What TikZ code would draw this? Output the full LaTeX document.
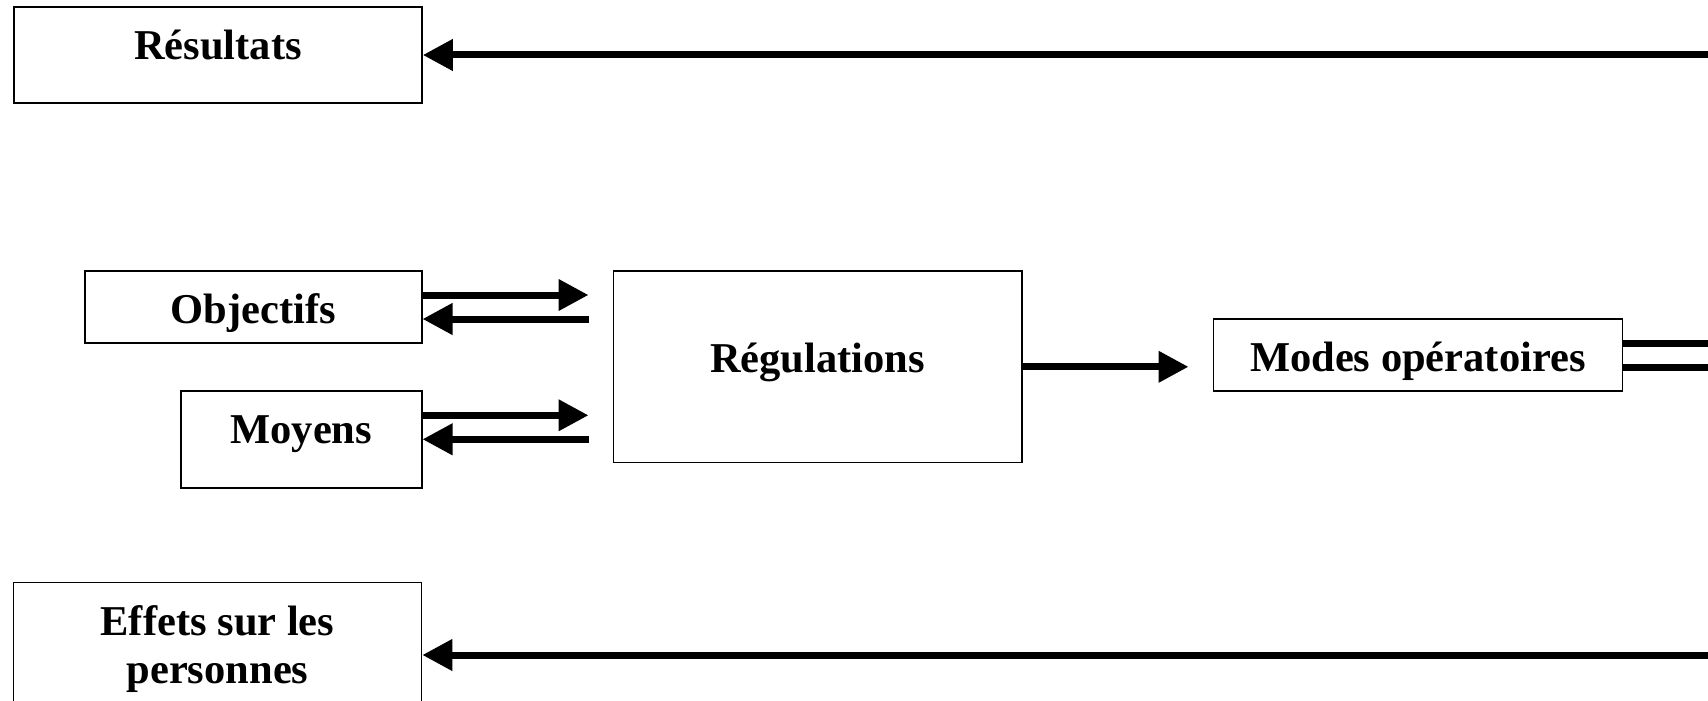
\documentclass[tikz,border=0pt]{standalone}
\usepackage{fontspec}
\setmainfont{Liberation Serif}
\usetikzlibrary{arrows.meta}

\begin{document}
\begin{tikzpicture}[x=0.5pt, y=-0.5pt,
  box/.style={draw, line width=0.8pt, align=center, inner sep=0pt,
    font=\bfseries\fontsize{21.25}{24}\selectfont},
  baseline at/.style={text height=#1, text depth=0pt},
  flow/.style={line width=3.5pt, -{Triangle[length=15pt,width=15pt]}},
  link/.style={line width=3.5pt}]
  \useasboundingbox (0,0) rectangle (1708,701);
  \clip (0,0) rectangle (1708,701);
  % Outcome boxes (left column)
  \node[box, baseline at=4.5pt, minimum width=204pt, minimum height=48pt] (res) at (218,55.3) {Résultats};
  \node[box, minimum width=204pt, minimum height=67pt] (eff) at (217.5,649.3)
    {Effets sur les\\personnes};
  % Inputs
  \node[box, baseline at=16.3pt, minimum width=168.4pt, minimum height=36.2pt] (obj) at (253.3,307) {Objectifs};
  \node[box, baseline at=4.1pt, minimum width=120.4pt, minimum height=48.4pt] (moy) at (301.3,439.3) {Moyens};
  % Regulation and operating modes
  \node[box, baseline at=5.2pt, minimum width=204.2pt, minimum height=95.8pt] (reg) at (817.5,366.8) {Régulations};
  \node[box, baseline at=16.5pt, minimum width=204.5pt, minimum height=36pt] (mod) at (1417.8,355) {Modes opératoires};
  % Free ends on the right border
  \coordinate (rt) at (1708,55);
  \coordinate (rb) at (1708,655);
  % Feedback arrows from the right
  \draw[flow] (rt) -- (rt -| res.east);
  \draw[flow] (rb) -- (rb -| eff.east);
  % Exchanges with the regulation box
  \coordinate (o1) at ([yshift=6pt]obj.east);
  \coordinate (o2) at ([yshift=-6pt]obj.east);
  \coordinate (m1) at ([yshift=12pt]moy.east);
  \coordinate (m2) at (moy.east);
  \draw[flow, shorten >=12pt] (o1) -- (o1 -| reg.west);
  \draw[flow, shorten <=12pt] (o2 -| reg.west) -- (o2);
  \draw[flow, shorten >=12pt] (m1) -- (m1 -| reg.west);
  \draw[flow, shorten <=12pt] (m2 -| reg.west) -- (m2);
  \draw[flow, shorten >=12pt] (reg.east) -- (reg.east -| mod.west);
  % Double line leaving the operating modes
  \coordinate (d1) at ([yshift=6pt]mod.east);
  \coordinate (d2) at ([yshift=-6pt]mod.east);
  \draw[link] (d1) -- (d1 -| rt);
  \draw[link] (d2) -- (d2 -| rt);
\end{tikzpicture}
\end{document}
